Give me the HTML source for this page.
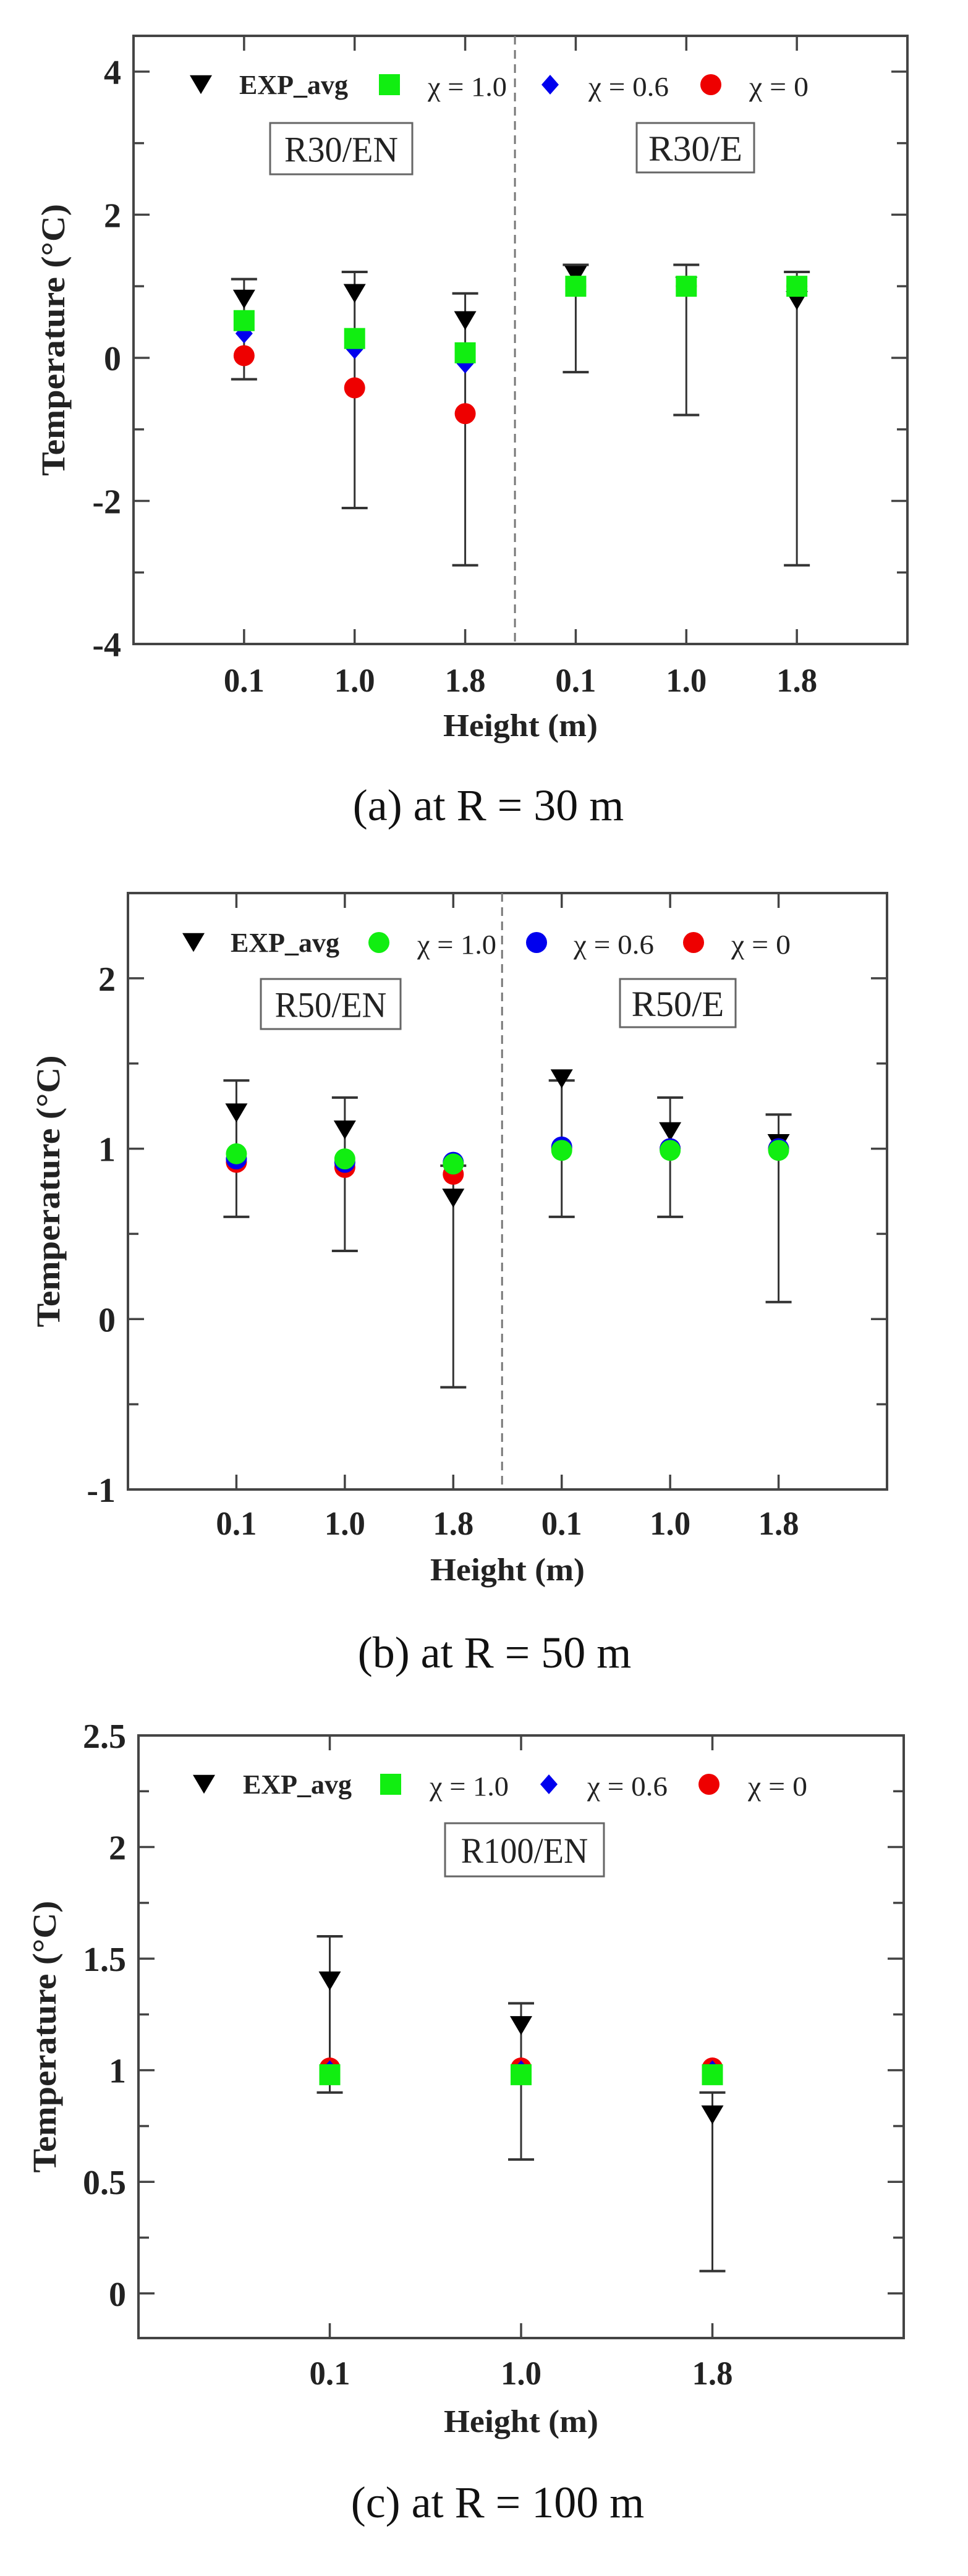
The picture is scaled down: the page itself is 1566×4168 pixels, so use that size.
<!DOCTYPE html>
<html><head><meta charset="utf-8"><title>Temperature vs Height</title>
<style>html,body{margin:0;padding:0;background:#fff;}svg{display:block;}</style></head>
<body>
<svg id="fig" xmlns="http://www.w3.org/2000/svg" width="1566" height="4168" viewBox="0 0 1566 4168"></svg>
<script>
// ---- Chart A (R = 30 m) data ----
const aCats = ['0.1','1.0','1.8','0.1','1.0','1.8'];
const aExp = [0.82, 0.9, 0.52, 1.15, 1.0, 0.8];
const aErrHi = [1.1, 1.2, 0.9, 1.3, 1.3, 1.2];
const aErrLo = [-0.3, -2.1, -2.9, -0.2, -0.8, -2.9];
const aChi1 = [0.52, 0.27, 0.07, 1.0, 1.0, 1.0];
const aChi06 = [0.34, 0.12, -0.08, 1.0, 1.0, 1.0];
const aChi0 = [0.03, -0.42, -0.78, 1.0, 1.0, 1.0];
const aYTicks = ['-4','-2','0','2','4'];
// ---- Chart B (R = 50 m) data ----
const bCats = ['0.1','1.0','1.8','0.1','1.0','1.8'];
const bExp = [1.21, 1.11, 0.71, 1.41, 1.1, 1.03];
const bErrHi = [1.4, 1.3, 0.9, 1.4, 1.3, 1.2];
const bErrLo = [0.6, 0.4, -0.4, 0.6, 0.6, 0.1];
const bChi1 = [0.97, 0.94, 0.91, 0.99, 0.99, 0.99];
const bChi06 = [0.94, 0.92, 0.92, 1.01, 1.0, 1.0];
const bChi0 = [0.92, 0.89, 0.85, 1.0, 1.0, 1.0];
const bYTicks = ['-1','0','1','2'];
// ---- Chart C (R = 100 m) data ----
const cCats = ['0.1','1.0','1.8'];
const cExp = [1.4, 1.2, 0.8];
const cErrHi = [1.6, 1.3, 0.9];
const cErrLo = [0.9, 0.6, 0.1];
const cChi1 = [0.98, 0.98, 0.98];
const cChi06 = [1.0, 1.0, 1.0];
const cChi0 = [1.01, 1.01, 1.01];
const cYTicks = ['0','0.5','1','1.5','2','2.5'];

const NS = 'http://www.w3.org/2000/svg';
const svg = document.getElementById('fig');
function mk(tag, attrs, parent) {
  const e = document.createElementNS(NS, tag);
  for (const k in attrs) e.setAttribute(k, attrs[k]);
  (parent || svg).appendChild(e);
  return e;
}
function txt(s, attrs, parent) { const e = mk('text', attrs, parent); e.textContent = s; return e; }

function drawChart(id, L, R, T, B, xmax, ymin, ymax, majorStep, minorStep, cats, exp, hi, lo, c1, c06, c0, yTicks, greenShape, blueShape, dashed, boxes, legY, legX, ylabX, title, titleY, titleX, tickLabY, hLabY) {
  const g = mk('g', {});
  
  
  const sx = v => L + (R - L) * v / xmax;
  const sy = v => B - (B - T) * (v - ymin) / (ymax - ymin);
  const col = '#333';
  // frame
  const fr = mk('rect', {x: L, y: T, width: R - L, height: B - T, fill: 'none', stroke: '#444', 'stroke-width': 4}, g);
  
  
  // y ticks
  const n = Math.round((ymax - ymin) / minorStep);
  for (let i = 0; i <= n; i++) {
    const v = Math.ceil(ymin / minorStep) * minorStep + i * minorStep;
    if (v > ymax + 1e-6) break;
    const major = Math.abs(v / majorStep - Math.round(v / majorStep)) < 1e-6;
    const len = major ? 26 : 17;
    const y = sy(v);
    mk('line', {x1: L, x2: L + len, y1: y, y2: y, stroke: '#444', 'stroke-width': 3.5}, g);
    mk('line', {x1: R, x2: R - len, y1: y, y2: y, stroke: '#444', 'stroke-width': 3.5}, g);
  }
  yTicks.forEach(s => {
    const t = txt(s, {x: L - 20, y: sy(parseFloat(s)) + 20, 'text-anchor': 'end', 'font-family': 'Liberation Serif, serif', 'font-weight': 'bold', 'font-size': 56, fill: '#222'}, g);
    
    
  });
  // x ticks
  cats.forEach((c, i) => {
    const x = sx(i + 1);
    mk('line', {x1: x, x2: x, y1: B, y2: B - 24, stroke: '#444', 'stroke-width': 3.5}, g);
    mk('line', {x1: x, x2: x, y1: T, y2: T + 24, stroke: '#444', 'stroke-width': 3.5}, g);
    const t = txt(c, {x: x, y: tickLabY + 20, 'text-anchor': 'middle', 'font-family': 'Liberation Serif, serif', 'font-weight': 'bold', 'font-size': 54, fill: '#222', textLength: 66, lengthAdjust: 'spacingAndGlyphs'}, g);
    
    
  });
  if (dashed) {
    const d = mk('line', {x1: sx(3.45), x2: sx(3.45), y1: T, y2: B, stroke: '#777', 'stroke-width': 3, 'stroke-dasharray': '14,9'}, g);
    
    
  }
  // boxes
  boxes.forEach(b => {
    const bg = mk('g', {}, g);
    
    
    mk('rect', {x: b[1], y: b[3], width: b[2] - b[1], height: b[4] - b[3], fill: '#fff', stroke: '#666', 'stroke-width': 3}, bg);
    txt(b[0], {x: (b[1] + b[2]) / 2, y: (b[3] + b[4]) / 2 + 21, 'text-anchor': 'middle', 'font-family': 'Liberation Serif, serif', 'font-size': 58, fill: '#222', textLength: (b[2] - b[1]) * 0.8, lengthAdjust: 'spacingAndGlyphs'}, bg);
  });
  // markers
  function tri(x, y, s, p) {
    const m = mk('polygon', {points: `${x - s},${y - s * 0.85} ${x + s},${y - s * 0.85} ${x},${y + s * 0.85}`, fill: '#000'}, p);
    return m;
  }
  function shape(kind, x, y, color, p) {
    if (kind === 'square') return mk('rect', {x: x - 17, y: y - 17, width: 34, height: 34, fill: color}, p);
    if (kind === 'diamond') return mk('polygon', {points: `${x},${y - 16} ${x + 14},${y} ${x},${y + 16} ${x - 14},${y}`, fill: color}, p);
    return mk('circle', {cx: x, cy: y, r: 17, fill: color}, p);
  }
  cats.forEach((c, i) => {
    const x = sx(i + 1);
    const eb = mk('g', {}, g);
    
    
    mk('line', {x1: x, x2: x, y1: sy(hi[i]), y2: sy(lo[i]), stroke: col, 'stroke-width': 3}, eb);
    mk('line', {x1: x - 21, x2: x + 21, y1: sy(hi[i]), y2: sy(hi[i]), stroke: col, 'stroke-width': 4}, eb);
    mk('line', {x1: x - 21, x2: x + 21, y1: sy(lo[i]), y2: sy(lo[i]), stroke: col, 'stroke-width': 4}, eb);
    const t = tri(x, sy(exp[i]), 18, g);
    
    
    const r = shape('circle', x, sy(c0[i]), '#ee0000', g);
    
    
    const bl = shape(blueShape, x, sy(c06[i]), '#0000ee', g);
    
    
    const gr = shape(greenShape, x, sy(c1[i]), '#11ee11', g);
    
    
  });
  // legend
  const lg = mk('g', {}, g);
  
  
  const lf = {'font-family': 'Liberation Serif, serif', 'font-size': 44, fill: '#222', lengthAdjust: 'spacingAndGlyphs'};
  tri(legX[0], legY, 18, lg);
  txt('EXP_avg', Object.assign({x: legX[1], y: legY + 15, 'font-weight': 'bold', textLength: 176}, lf), lg);
  shape(greenShape, legX[2], legY, '#11ee11', lg);
  txt('χ = 1.0', Object.assign({x: legX[3], y: legY + 18, textLength: 128}, lf), lg);
  shape(blueShape, legX[4], legY, '#0000ee', lg);
  txt('χ = 0.6', Object.assign({x: legX[5], y: legY + 18, textLength: 130}, lf), lg);
  shape('circle', legX[6], legY, '#ee0000', lg);
  txt('χ = 0', Object.assign({x: legX[7], y: legY + 18, textLength: 96}, lf), lg);
  // axis titles
  const yl = txt('Temperature (°C)', {x: 0, y: 0, transform: `translate(${ylabX + 18},${(T + B) / 2}) rotate(-90)`, 'text-anchor': 'middle', 'font-family': 'Liberation Serif, serif', 'font-weight': 'bold', 'font-size': 54, fill: '#222', textLength: 440, lengthAdjust: 'spacingAndGlyphs'}, g);
  
  
  const xl = txt('Height (m)', {x: (L + R) / 2, y: hLabY + 18, 'text-anchor': 'middle', 'font-family': 'Liberation Serif, serif', 'font-weight': 'bold', 'font-size': 52, fill: '#222', textLength: 250, lengthAdjust: 'spacingAndGlyphs'}, g);
  
  
  const ct = txt(title, {x: titleX, y: titleY + 25, 'text-anchor': 'middle', 'font-family': 'Liberation Serif, serif', 'font-size': 72, fill: '#111'}, g);
  
  
}

drawChart('r30', 216, 1468, 58, 1042, 7, -4, 4.5, 2, 1, aCats, aExp, aErrHi, aErrLo, aChi1, aChi06, aChi0, aYTicks, 'square', 'diamond', true,
  [['R30/EN', 437, 667, 199, 282], ['R30/E', 1030, 1220, 199, 279]],
  137, [325, 387, 630, 692, 890, 952, 1150, 1212], 86, '(a) at R = 30 m', 1302, 790, 1099, 1173);
drawChart('r50', 207, 1435, 1445, 2410, 7, -1, 2.5, 1, 0.5, bCats, bExp, bErrHi, bErrLo, bChi1, bChi06, bChi0, bYTicks, 'circle', 'circle', true,
  [['R50/EN', 422, 648, 1584, 1665], ['R50/E', 1003, 1190, 1584, 1662]],
  1525, [313, 373, 613, 675, 868, 928, 1122, 1183], 78, '(b) at R = 50 m', 2673, 800, 2463, 2539);
drawChart('r100', 224, 1462, 2808, 3783, 4, -0.2, 2.5, 0.5, 0.25, cCats, cExp, cErrHi, cErrLo, cChi1, cChi06, cChi0, cYTicks, 'square', 'diamond', false,
  [['R100/EN', 720, 977, 2950, 3036]],
  2887, [330, 393, 632, 695, 888, 950, 1147, 1210], 72, '(c) at R = 100 m', 4048, 805, 3838, 3917);
</script>
</body></html>
